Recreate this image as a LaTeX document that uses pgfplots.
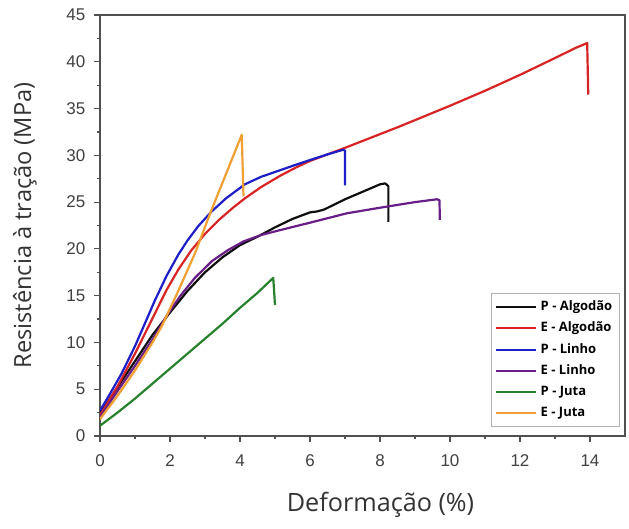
\documentclass[border=0pt]{standalone}
\usepackage{fontspec}
\setmainfont{Open Sans}
\newfontfamily\tickfont{Liberation Sans}
\usepackage{pgfplots}
\pgfplotsset{compat=1.18}

\definecolor{cBlack}{RGB}{15,15,15}
\definecolor{cRed}{RGB}{215,35,35}
\definecolor{cBlue}{RGB}{30,30,200}
\definecolor{cPurple}{RGB}{105,30,135}
\definecolor{cGreen}{RGB}{40,130,45}
\definecolor{cOrange}{RGB}{240,160,50}
\definecolor{axisgray}{RGB}{80,80,80}

\begin{document}
\begin{tikzpicture}
\begin{axis}[
  scale only axis,
  width=262.5pt, height=210.5pt,
  xmin=0, xmax=15, ymin=0, ymax=45,
  xtick={0,2,...,14}, ytick={0,5,...,45},
  minor x tick num=1, minor y tick num=1,
  tick align=outside,
  xtick pos=bottom, ytick pos=left,
  major tick length=2.8pt, minor tick length=1.6pt,
  axis line style={draw=axisgray, line width=0.7pt},
  every tick/.style={draw=axisgray, line width=0.6pt},
  tick label style={font=\tickfont\fontsize{8.5}{10}\selectfont, text=black!75},
  /pgf/number format/assume math mode=true,
  xticklabel style={yshift=-3pt},
  yticklabel style={xshift=-1pt},
  xlabel={Deformação (\%)},
  ylabel={Resistência à tração (MPa)},
  xlabel style={font=\fontsize{12.6}{14}\selectfont, text=black!80, yshift=-6pt, xshift=9pt},
  ylabel style={font=\fontsize{11.8}{13}\selectfont, text=black!80, yshift=8pt},
  legend cell align=left,
  legend style={
    font=\bfseries\fontsize{6.5}{7.5}\selectfont,
    draw=gray!60, line width=0.5pt,
    at={(rel axis cs:1,0)}, anchor=south east,
    xshift=-2.5pt, yshift=4.5pt,
    row sep=0.3pt, inner sep=1.6pt},
  legend image code/.code={\draw[#1, line width=1.1pt] (0pt,0pt) -- (20pt,0pt);},
  every axis plot/.append style={line width=1.1pt, line join=round},
]
% P - Algodao
\addplot[cBlack] coordinates {
 (0,2.4) (0.5,5.2) (1,8.0) (1.5,10.8) (2,13.2) (2.5,15.5) (3,17.5) (3.5,19.1)
 (4,20.4) (4.5,21.3) (5,22.3) (5.5,23.2) (6,23.9) (6.2,24.0) (6.4,24.2)
 (7,25.3) (7.5,26.1) (8.0,26.9) (8.15,27.0) (8.24,26.7) (8.24,22.9)};
\addlegendentry{P - Algodão}
% E - Algodao
\addplot[cRed] coordinates {
 (0,2.2) (0.5,5.3) (1,8.8) (1.57,13.1) (1.9,15.6) (2.24,17.8) (2.6,19.8)
 (3.0,21.6) (3.4,23.1) (3.8,24.4) (4.14,25.4) (4.6,26.6) (5.14,27.8)
 (5.6,28.7) (6,29.4) (6.5,30.1) (7,30.8) (8.57,33.1) (10,35.3) (11,36.9)
 (12,38.6) (13,40.4) (13.6,41.5) (13.92,42.0) (13.95,36.5)};
\addlegendentry{E - Algodão}
% P - Linho
\addplot[cBlue] coordinates {
 (0,2.7) (0.3,4.6) (0.62,6.7) (1,9.6) (1.57,14.5) (1.9,17.1) (2.24,19.4)
 (2.5,20.9) (2.8,22.4) (3.19,24.0) (3.6,25.4) (4.14,26.9) (4.6,27.7)
 (5.14,28.4) (5.6,29.0) (6,29.5) (6.5,30.1) (6.95,30.6) (7.0,30.5) (7.0,26.8)};
\addlegendentry{P - Linho}
% E - Linho
\addplot[cPurple] coordinates {
 (0,2.0) (0.5,4.8) (1,7.5) (1.5,10.3) (1.95,13.1) (2.3,15.0) (2.71,16.9)
 (3.2,18.7) (3.67,19.9) (4.1,20.8) (4.62,21.5) (5.14,22.0) (6,22.8)
 (7.05,23.8) (8,24.4) (9,25.0) (9.62,25.3) (9.7,25.2) (9.71,23.1)};
\addlegendentry{E - Linho}
% P - Juta
\addplot[cGreen] coordinates {
 (0,1.1) (0.5,2.5) (1,4.0) (1.5,5.6) (2,7.2) (2.5,8.8) (3,10.4) (3.5,12.0)
 (4,13.7) (4.5,15.3) (4.95,16.9) (5.0,14.0)};
\addlegendentry{P - Juta}
% E - Juta
\addplot[cOrange] coordinates {
 (0,1.8) (0.5,4.3) (1,7.0) (1.5,10.0) (1.76,11.7) (2.2,15.2) (2.71,19.5)
 (3.19,24.2) (3.6,28.0) (4.05,32.2) (4.1,25.6)};
\addlegendentry{E - Juta}
\end{axis}
\pgfresetboundingbox
\path ([xshift=-50pt,yshift=-46.5pt]current axis.south west)
  rectangle ([xshift=2pt,yshift=7.5pt]current axis.north east);
\end{tikzpicture}
\end{document}
